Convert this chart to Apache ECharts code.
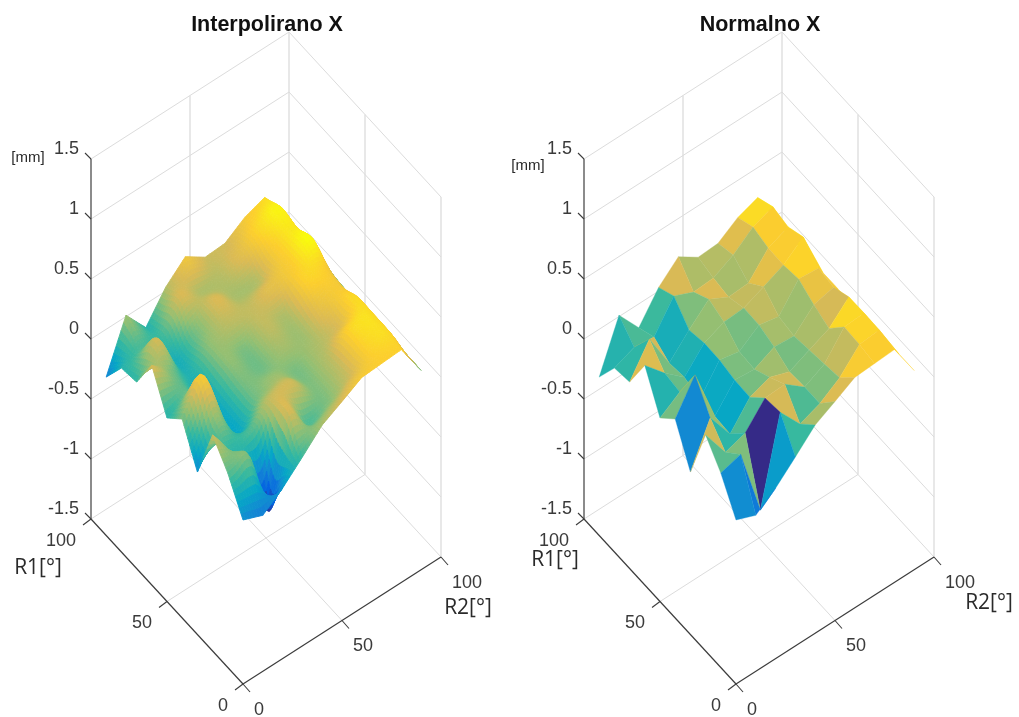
<!DOCTYPE html>
<html><head><meta charset="utf-8">
<style>html,body{margin:0;padding:0;background:#fff}#c{width:1019px;height:717px}</style>
<script src="https://cdn.jsdelivr.net/npm/echarts@6/dist/echarts.min.js"></script>
</head><body><div id="c"></div>
<script>
// Measured surface: one list of Z values [mm] per R1 value, ordered by R2
const r1Values = [0,10,20,30,40,50,60,70,80,90];
const r2Values = [0,10,20,30,40,50,60,70,80,90];
const zAtR1_0  = [-.133,-.20,-.08,.074,.235,.325,.42,.43,.44,.16];
const zAtR1_10 = [.12,.17,-.40,.31,.106,.17,.28,.45,.466,.16];
const zAtR1_20 = [.30,.05,.105,.29,.30,.17,.257,.46,.47,.15];
const zAtR1_30 = [-.146,.20,-.04,.16,.22,.16,.236,.31,.466,.15];
const zAtR1_40 = [.158,.42,-.03,.166,.15,.23,.215,.37,.41,.15];
const zAtR1_50 = [.03,.14,-.03,.195,.16,.275,.24,.447,.43,.15];
const zAtR1_60 = [.33,.16,.02,.20,.268,.28,.35,.426,.553,.15];
const zAtR1_70 = [.054,.307,0,.17,.32,.233,.244,.43,.50,.15];
const zAtR1_80 = [.033,.10,.08,.316,.243,.254,.34,.467,.53,.15];
const zAtR1_90 = [-.18,.23,.02,.25,.40,.29,.30,.41,.47,.15];
const zRows = [zAtR1_0,zAtR1_10,zAtR1_20,zAtR1_30,zAtR1_40,zAtR1_50,zAtR1_60,zAtR1_70,zAtR1_80,zAtR1_90];
const zTicks = [-1.5,-1,-0.5,0,0.5,1,1.5];
const r1Ticks = [0,50,100];
const r2Ticks = [0,50,100];
const titles = ['Interpolirano X','Normalno X'];
const parula = ['#352a87','#0363e1','#1485d4','#06a7c6','#38b99e','#92bf73','#d9ba56','#fcce2e','#f9fb0e'];
const colorMin = -0.4, colorMax = 0.553;

// oblique view of the 3D box, in plot units of the two hidden cartesian grids
const H = (r1,r2)=> r2*1.98 - r1*1.52;
const V = (r1,r2,z)=> r1*1.65 + r2*1.27 + (z+1.5)*120;
const clamp = z=>Math.max(colorMin,Math.min(colorMax,z));

// flat facets, back to front, coloured by their first corner
function flatFacets(){
  const out=[];
  for(let i=r1Values.length-2;i>=0;i--) for(let j=r2Values.length-2;j>=0;j--){
    const q=[[r1Values[i],r2Values[j],zRows[i][j]],[r1Values[i],r2Values[j+1],zRows[i][j+1]],
             [r1Values[i+1],r2Values[j+1],zRows[i+1][j+1]],[r1Values[i+1],r2Values[j],zRows[i+1][j]]];
    out.push({value:[r1Values[i],r2Values[j],clamp(zRows[i][j]),JSON.stringify(q)]});
  }
  return out;
}
// render-time smooth shading of the same measured rows: a low-tension spline inside,
// easing to straight segments along the outer edge of the surface
const TENSION=0.3;
function herm(a,b,c,d,t){
  const m1=TENSION*(c-a),m2=TENSION*(d-b),t2=t*t,t3=t2*t;
  return (2*t3-3*t2+1)*b+(t3-2*t2+t)*m1+(-2*t3+3*t2)*c+(t3-t2)*m2;
}
function smoothZ(u,w){
  const n=zRows.length,m=zRows[0].length;
  const i=Math.min(n-2,Math.floor(u)),j=Math.min(m-2,Math.floor(w));
  const tu=u-i,tw=w-j,row=[];
  for(let k=-1;k<=2;k++){
    const r=zRows[Math.max(0,Math.min(n-1,i+k))];
    const g=o=>r[Math.max(0,Math.min(m-1,j+o))];
    row.push(herm(g(-1),g(0),g(1),g(2),tw));
  }
  const s=herm(row[0],row[1],row[2],row[3],tu);
  const b=(zRows[i][j]*(1-tw)+zRows[i][j+1]*tw)*(1-tu)+(zRows[i+1][j]*(1-tw)+zRows[i+1][j+1]*tw)*tu;
  const e=Math.min(1,Math.min(u,n-1-u,w,m-1-w));
  const k=e*e*(3-2*e);
  return b*(1-k)+s*k;
}
function smoothFacets(sub){
  const out=[],n=(r1Values.length-1)*sub,m=(r2Values.length-1)*sub,step=10/sub;
  for(let a=n-1;a>=0;a--) for(let b=m-1;b>=0;b--){
    const c=(x,y)=>[x*step,y*step,smoothZ(x/sub,y/sub)];
    const q=[c(a,b),c(a,b+1),c(a+1,b+1),c(a+1,b)];
    const mean=(q[0][2]+q[1][2]+q[2][2]+q[3][2])/4;
    out.push({value:[a*step,b*step,clamp(mean),JSON.stringify(q)]});
  }
  return out;
}
function renderFacet(params,api){
  const q=JSON.parse(api.value(3));
  const pts=q.map(p=>api.coord([H(p[0],p[1]),V(p[0],p[1],p[2])]));
  const col=api.visual('color');
  return {type:'polygon',shape:{points:pts},style:{fill:col,stroke:col,lineWidth:params.seriesIndex===2?0.9:0.35}};
}
const GRID='#dcdcdc', AX='#3c3c3c', ZAX='#6e6e6e', TXT='#3a3a3a';
const FONT='"Liberation Sans",Arial,sans-serif';
function renderFrame(params,api){
  const P=(r1,r2,z)=>api.coord([H(r1,r2),V(r1,r2,z)]);
  const L=(a,b,c,w)=>({type:'line',shape:{x1:a[0],y1:a[1],x2:b[0],y2:b[1]},style:{stroke:c,lineWidth:w}});
  const T=(s,x,y,al)=>({type:'text',style:{text:s,x:x,y:y,align:al||'center',verticalAlign:'middle',fill:TXT,font:'18px '+FONT}});
  const zMin=zTicks[0],zMax=zTicks[zTicks.length-1],R=100,els=[];
  zTicks.forEach(z=>{els.push(L(P(R,0,z),P(R,R,z),GRID,1),L(P(R,R,z),P(0,R,z),GRID,1));});
  [[R,R/2],[R,R],[R/2,R],[0,R]].forEach(c=>els.push(L(P(c[0],c[1],zMin),P(c[0],c[1],zMax),GRID,1.3)));
  els.push(L(P(R/2,0,zMin),P(R/2,R,zMin),GRID,1),L(P(0,R/2,zMin),P(R,R/2,zMin),GRID,1));
  els.push(L(P(R,0,zMin),P(R,0,zMax),ZAX,1.6),L(P(0,0,zMin),P(R,0,zMin),AX,1.2),L(P(0,0,zMin),P(0,R,zMin),AX,1.2));
  zTicks.forEach(z=>{const p=P(R,0,z);els.push(L(p,[p[0]-6,p[1]-6],AX,1.1),T(String(z),p[0]-12,p[1]-10,'right'));});
  r1Ticks.forEach(t=>{const p=P(t,0,zMin);els.push(L(p,[p[0]-8,p[1]+6],AX,1.1),T(String(t),p[0]-15,p[1]+22,'right'));});
  r2Ticks.forEach(t=>{const p=P(0,t,zMin);els.push(L(p,[p[0]+7,p[1]+8],AX,1.1),T(String(t),p[0]+11,p[1]+26,'left'));});
  return {type:'group',children:els};
}
const panel=k=>({left:k?584:91,top:32,width:350,height:652});
const chart=echarts.init(document.getElementById('c'),null,{renderer:'canvas'});
const surf=(k,data)=>({type:'custom',xAxisIndex:k,yAxisIndex:k,data:data,renderItem:renderFacet,clip:false,silent:true,
  animation:false,progressive:0,encode:{x:0,y:1},z:3,dimensions:['r1','r2','zc',{name:'q',type:'ordinal'}]});
const frame=k=>({type:'custom',xAxisIndex:k,yAxisIndex:k,data:[[0,0]],renderItem:renderFrame,clip:false,silent:true,
  animation:false,encode:{x:0,y:1},z:1});
const txt=(s,x,y,font)=>({type:'text',x:x,y:y,z:5,style:{text:s,fill:'#2a2a2a',font:font,align:'center',verticalAlign:'middle'}});
chart.setOption({
  animation:false,backgroundColor:'#fff',
  title:[{text:titles[0],left:262,top:9,textAlign:'center',textStyle:{fontFamily:FONT,fontWeight:'bold',fontSize:21.5,color:'#111'}},
         {text:titles[1],left:755,top:9,textAlign:'center',textStyle:{fontFamily:FONT,fontWeight:'bold',fontSize:21.5,color:'#111'}}],
  grid:[panel(0),panel(1)],
  xAxis:[0,1].map(k=>({gridIndex:k,type:'value',min:-152,max:198,show:false})),
  yAxis:[0,1].map(k=>({gridIndex:k,type:'value',min:0,max:652,show:false})),
  visualMap:{show:false,type:'continuous',seriesIndex:[2,3],dimension:2,min:colorMin,max:colorMax,inRange:{color:parula}},
  graphic:[
    txt('[mm]',28,158,'15px '+FONT),txt('[mm]',528,166,'15px '+FONT),
    txt('R1[°]',38,568,'21px "Open Sans"'),txt('R2[°]',468,608,'21px "Open Sans"'),
    txt('R1[°]',555,560,'21px "Open Sans"'),txt('R2[°]',989,603,'21px "Open Sans"')
  ],
  series:[frame(0),frame(1),surf(0,smoothFacets(8)),surf(1,flatFacets())]
});
</script></body></html>
